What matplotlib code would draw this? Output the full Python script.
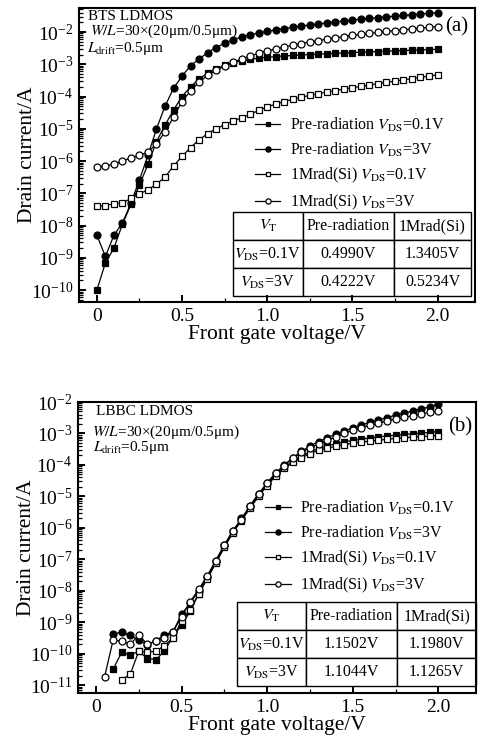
import numpy as np
import matplotlib
matplotlib.use("Agg")
import matplotlib.pyplot as plt
from matplotlib.ticker import MultipleLocator, LogLocator, NullFormatter, FuncFormatter

plt.rcParams["font.family"] = "serif"
plt.rcParams["font.serif"] = ["Liberation Serif", "DejaVu Serif"]
plt.rcParams["mathtext.fontset"] = "stix"

# ---------------- data: (a) BTS LDMOS ----------------
vg_a = np.round(np.arange(0, 2.0001, 0.05), 2)

bts_pre_01 = [1e-10, 7e-10, 2e-9, 1.1e-8, 4.5e-8, 1.8e-7, 8e-7, 4e-6, 1.3e-5, 3.8e-5,
              1e-4, 2e-4, 3.5e-4, 5.3e-4, 7.3e-4, 9.2e-4, 1.1e-3, 1.3e-3, 1.42e-3, 1.55e-3,
              1.65e-3, 1.73e-3, 1.8e-3, 1.87e-3, 1.93e-3, 2.0e-3, 2.06e-3, 2.12e-3, 2.18e-3, 2.24e-3,
              2.3e-3, 2.36e-3, 2.42e-3, 2.48e-3, 2.54e-3, 2.6e-3, 2.66e-3, 2.72e-3, 2.78e-3, 2.84e-3,
              2.9e-3]
bts_pre_3 = [5e-9, 1.1e-9, 5e-9, 1.2e-8, 5e-8, 2.6e-7, 1.5e-6, 1e-5, 5e-5, 1.8e-4,
             4.3e-4, 9e-4, 1.45e-3, 2.3e-3, 3.3e-3, 4.5e-3, 5.8e-3, 7e-3, 8.2e-3, 9.3e-3,
             1.05e-2, 1.15e-2, 1.27e-2, 1.4e-2, 1.52e-2, 1.65e-2, 1.78e-2, 1.92e-2, 2.06e-2, 2.2e-2,
             2.35e-2, 2.5e-2, 2.65e-2, 2.8e-2, 2.95e-2, 3.1e-2, 3.25e-2, 3.4e-2, 3.6e-2, 3.8e-2,
             4.0e-2]
bts_rad_01 = [4e-8, 4.1e-8, 4.8e-8, 5e-8, 7e-8, 9.5e-8, 1.3e-7, 1.9e-7, 3.2e-7, 7e-7,
              1.4e-6, 2.6e-6, 4.6e-6, 7e-6, 1e-5, 1.35e-5, 1.75e-5, 2.2e-5, 2.8e-5, 3.7e-5,
              4.8e-5, 5.8e-5, 7e-5, 8.2e-5, 9.5e-5, 1.08e-4, 1.22e-4, 1.37e-4, 1.53e-4, 1.7e-4,
              1.88e-4, 2.07e-4, 2.27e-4, 2.5e-4, 2.75e-4, 3e-4, 3.3e-4, 3.6e-4, 3.95e-4, 4.3e-4,
              4.7e-4]
bts_rad_3 = [6.5e-7, 7e-7, 8e-7, 1e-6, 1.25e-6, 1.5e-6, 1.9e-6, 3.4e-6, 8e-6, 2.3e-5,
             7e-5, 1.5e-4, 2.8e-4, 4.5e-4, 6.5e-4, 8.8e-4, 1.15e-3, 1.45e-3, 1.8e-3, 2.2e-3,
             2.6e-3, 3.0e-3, 3.45e-3, 3.9e-3, 4.4e-3, 4.9e-3, 5.45e-3, 6.0e-3, 6.6e-3, 7.2e-3,
             7.8e-3, 8.4e-3, 9.0e-3, 9.7e-3, 1.04e-2, 1.11e-2, 1.18e-2, 1.25e-2, 1.32e-2, 1.4e-2,
             1.48e-2]

# ---------------- data: (b) LBBC LDMOS ----------------
vg_b_rad3 = np.round(np.arange(0.05, 2.0001, 0.05), 2)
vg_b_pre = np.round(np.arange(0.10, 2.0001, 0.05), 2)
vg_b_rad01 = np.round(np.arange(0.15, 2.0001, 0.05), 2)

lbbc_pre_01 = [3.2e-11, 1.1e-10, 9e-11, 1.2e-10, 7e-11, 6.5e-11, 1.2e-10, 3.5e-10, 8e-10,
               2.2e-9, 8e-9, 2.5e-8, 8e-8, 2.6e-7, 7.5e-7, 1.9e-6, 4.5e-6, 1.1e-5, 2.4e-5,
               4.8e-5, 8.5e-5, 1.3e-4, 1.9e-4, 2.6e-4, 3.3e-4, 4.0e-4, 4.7e-4, 5.4e-4, 6.0e-4,
               6.6e-4, 7.2e-4, 7.8e-4, 8.3e-4, 8.8e-4, 9.3e-4, 9.8e-4, 1.03e-3, 1.08e-3, 1.15e-3]
lbbc_pre_3 = [4.2e-10, 4.8e-10, 3.8e-10, 2.7e-10, 1.9e-10, 2.6e-10, 4.0e-10, 5.0e-10, 1.8e-9,
              4.0e-9, 1.0e-8, 2.8e-8, 9.0e-8, 2.8e-7, 8.0e-7, 2.0e-6, 5.0e-6, 1.2e-5, 2.7e-5,
              5.6e-5, 1.0e-4, 1.7e-4, 2.7e-4, 4.0e-4, 5.5e-4, 7.3e-4, 9.5e-4, 1.2e-3, 1.5e-3,
              1.85e-3, 2.25e-3, 2.7e-3, 3.2e-3, 3.8e-3, 4.4e-3, 5.2e-3, 6.0e-3, 7.0e-3, 8.5e-3]
lbbc_rad_01 = [1.5e-11, 2.2e-11, 1.2e-10, 1.1e-10, 1.2e-10, 1.8e-10, 3.2e-10, 1.1e-9,
               2.5e-9, 8e-9, 2.4e-8, 7.5e-8, 2.4e-7, 7e-7, 1.7e-6, 4.2e-6, 1.0e-5, 2.2e-5,
               4.4e-5, 7.8e-5, 1.2e-4, 1.7e-4, 2.3e-4, 2.9e-4, 3.4e-4, 3.9e-4, 4.4e-4, 4.9e-4,
               5.3e-4, 5.7e-4, 6.1e-4, 6.5e-4, 6.9e-4, 7.3e-4, 7.6e-4, 7.9e-4, 8.2e-4, 8.5e-4]
lbbc_rad_3 = [1.8e-11, 2.7e-10, 2.5e-10, 2.0e-10, 3.9e-10, 2.0e-10, 2.5e-10, 3.2e-10, 5.0e-10,
              1.5e-9, 4.5e-9, 1.1e-8, 3.0e-8, 9.0e-8, 2.9e-7, 8.0e-7, 1.8e-6, 5.0e-6, 1.2e-5,
              2.6e-5, 5.4e-5, 9.5e-5, 1.6e-4, 2.5e-4, 3.5e-4, 4.6e-4, 6.0e-4, 7.7e-4, 1.0e-3,
              1.25e-3, 1.5e-3, 1.8e-3, 2.1e-3, 2.5e-3, 2.85e-3, 3.25e-3, 3.7e-3, 4.2e-3, 4.7e-3,
              5.2e-3]

series_labels = [r"Pre-radiation $V_{\rm DS}$=0.1V", r"Pre-radiation $V_{\rm DS}$=3V",
                 r"1Mrad(Si) $V_{\rm DS}$=0.1V", r"1Mrad(Si) $V_{\rm DS}$=3V"]

table_header = [r"$V_{\rm T}$", "Pre-radiation", "1Mrad(Si)"]
row_labels = [r"$V_{\rm DS}$=0.1V", r"$V_{\rm DS}$=3V"]
vt_bts = [["0.4990V", "1.3405V"], ["0.4222V", "0.5234V"]]
vt_lbbc = [["1.1502V", "1.1980V"], ["1.1044V", "1.1265V"]]

W, H = 479, 738
fig = plt.figure(figsize=(W / 100, H / 100), dpi=100)


def px_axes(left, top, right, bottom):
    return fig.add_axes([left / W, 1 - bottom / H, (right - left) / W, (bottom - top) / H])


styles = [dict(marker="s", mfc="black"), dict(marker="o", mfc="black"),
          dict(marker="s", mfc="white"), dict(marker="o", mfc="white")]


def draw_panel(ax, curves, ylim, tag, title_lines, tpos, legend_anchor, table_bbox, col_w, vt):
    for (x, y), st, lab in zip(curves, styles, series_labels):
        ms = 5.0 if st["marker"] == "o" else 4.6
        ax.plot(x, y, color="black", lw=0.9, marker=st["marker"], ms=ms, mfc=st["mfc"],
                mec="black", mew=0.9, label=lab)
    ax.set_yscale("log")
    ax.set_xlim(-0.105, 2.22)
    ax.set_ylim(*ylim)
    ax.xaxis.set_major_locator(MultipleLocator(0.5))
    ax.xaxis.set_minor_locator(MultipleLocator(0.25))
    ax.xaxis.set_major_formatter(FuncFormatter(lambda v, p: "0" if abs(v) < 1e-9 else f"{v:.1f}"))
    ax.yaxis.set_major_locator(LogLocator(base=10, numticks=20))
    ax.yaxis.set_minor_locator(LogLocator(base=10, subs=np.arange(2, 10), numticks=20))
    ax.yaxis.set_minor_formatter(NullFormatter())
    ax.tick_params(which="both", direction="in", top=False, right=False, labelsize=14)
    ax.tick_params(which="major", length=5, width=1.4, pad=4)
    ax.tick_params(which="minor", length=3, width=0.9)
    for s in ax.spines.values():
        s.set_linewidth(1.5)
    ax.set_xlabel("Front gate voltage/V", fontsize=15.5, labelpad=0)
    ax.set_ylabel("Drain current/A", fontsize=15.5, labelpad=-4)

    for (txt, xf, yf) in zip(title_lines, tpos[0], tpos[1]):
        ax.text(xf, yf, txt, transform=ax.transAxes, fontsize=11, ha="left", va="center")
    ax.text(tag[1], tag[2], tag[0], transform=ax.transAxes, fontsize=15, ha="center", va="center")

    ax.legend(loc="upper left", bbox_to_anchor=legend_anchor, frameon=False,
              fontsize=11.5, handlelength=1.6, handletextpad=0.6, labelspacing=0.45,
              borderpad=0, borderaxespad=0, markerscale=0.75)

    cells = [table_header] + [[r] + v for r, v in zip(row_labels, vt)]
    tb = ax.table(cellText=cells, bbox=table_bbox, colWidths=col_w, cellLoc="center")
    tb.auto_set_font_size(False)
    tb.set_fontsize(11.5)
    for c in tb.get_celld().values():
        c.set_linewidth(1.0)
        c.set_facecolor("white")


ax_a = px_axes(79, 8, 475, 302)
draw_panel(
    ax_a,
    [(vg_a, bts_pre_01), (vg_a, bts_pre_3), (vg_a, bts_rad_01), (vg_a, bts_rad_3)],
    (10 ** -10.37, 10 ** -1.256),
    ("(a)", 0.955, 0.935),
    ["BTS LDMOS", r"$W/L$=30×(20μm/0.5μm)", r"$L_{\rm drift}$=0.5μm"],
    ([0.023, 0.028, 0.02], [0.970, 0.920, 0.862]),
    (0.444, 0.634),
    [0.389, 0.020, 0.601, 0.286],
    [70, 91, 77],
    vt_bts,
)

ax_b = px_axes(78, 402, 476, 693)
draw_panel(
    ax_b,
    [(vg_b_pre, lbbc_pre_01), (vg_b_pre, lbbc_pre_3), (vg_b_rad01, lbbc_rad_01), (vg_b_rad3, lbbc_rad_3)],
    (10 ** -11.25, 1e-2),
    ("(b)", 0.96, 0.914),
    ["LBBC LDMOS", r"$W/L$=30×(20μm/0.5μm)", r"$L_{\rm drift}$=0.5μm"],
    ([0.045, 0.035, 0.038], [0.966, 0.897, 0.843]),
    (0.47, 0.668),
    [0.40, 0.024, 0.60, 0.288],
    [69, 92, 79],
    vt_lbbc,
)

fig.savefig("out.png", dpi=100)
